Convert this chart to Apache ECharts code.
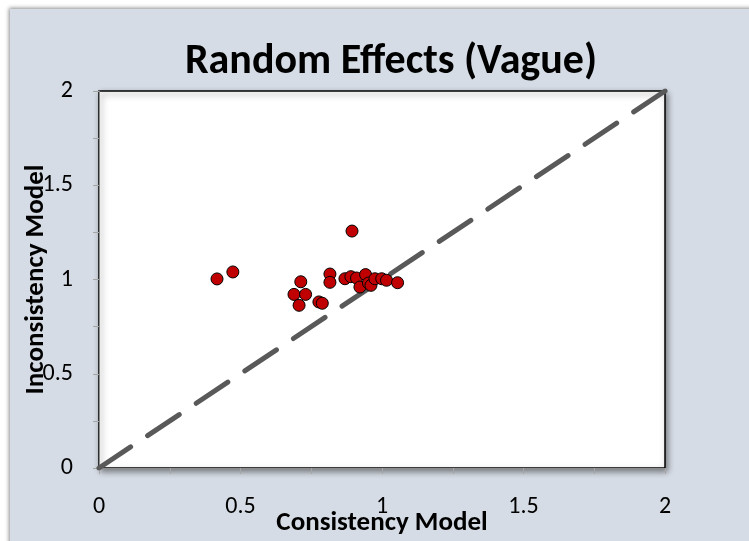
<!DOCTYPE html>
<html>
<head>
<meta charset="utf-8">
<script src="https://cdn.jsdelivr.net/npm/echarts@6/dist/echarts.min.js"></script>
<style>
html,body{margin:0;padding:0;background:#ffffff;}
#chart{width:749px;height:541px;}
</style>
</head>
<body>
<div id="chart"></div>
<script>
// Data
var consistency   = [0.417, 0.473, 0.894, 0.713, 0.689, 0.730, 0.707, 0.777, 0.789, 0.816, 0.816, 0.869, 0.890, 0.910, 0.942, 0.922, 0.952, 0.961, 0.975, 0.999, 1.016, 1.055];
var inconsistency = [1.003, 1.040, 1.257, 0.988, 0.921, 0.921, 0.863, 0.881, 0.874, 1.029, 0.985, 1.004, 1.015, 1.008, 1.026, 0.960, 0.981, 0.969, 1.004, 1.004, 0.996, 0.983];
var identityLine  = [[0, 0], [2, 2]];
var titleText = 'Random Effects (Vague)';
var xName = 'Consistency Model';
var yName = 'Inconsistency Model';

var FONT = 'Carlito, "Liberation Sans Narrow", "Liberation Sans", sans-serif';
var points = consistency.map(function (v, i) { return [v, inconsistency[i]]; });

var chart = echarts.init(document.getElementById('chart'), null, {renderer: 'canvas'});
chart.setOption({
  backgroundColor: '#ffffff',
  animation: false,
  graphic: [{
    type: 'rect', z: -10, silent: true,
    shape: {x: 10, y: 9, width: 760, height: 560},
    style: {fill: '#d6dce5', shadowBlur: 4, shadowColor: 'rgba(0,0,0,0.45)', shadowOffsetX: -1, shadowOffsetY: -1}
  }],
  title: {
    text: titleText,
    left: 386, top: 36, textAlign: 'center',
    textStyle: {fontFamily: FONT, fontSize: 42, fontWeight: 'bold', color: '#000'}
  },
  grid: {
    left: 99, top: 91, width: 566, height: 377,
    containLabel: false, outerBoundsMode: 'none',
    show: true, backgroundColor: '#ffffff', borderColor: '#000', borderWidth: 1.5,
    shadowColor: 'rgba(0,0,0,0.45)', shadowBlur: 6, shadowOffsetX: 2, shadowOffsetY: 3
  },
  xAxis: {
    type: 'value', min: 0, max: 2, interval: 0.5,
    name: xName, nameLocation: 'middle', nameGap: 42, nameMoveOverlap: false,
    nameTextStyle: {fontFamily: FONT, fontSize: 27, fontWeight: 'bold', color: '#000'},
    axisLine: {show: true, onZero: false, lineStyle: {color: '#8c8c8c', width: 1}},
    axisTick: {show: true, length: 6, lineStyle: {color: '#a6a6a6'}},
    minorTick: {show: true, splitNumber: 2, length: 6, lineStyle: {color: '#a6a6a6'}},
    splitLine: {show: false},
    axisLabel: {margin: 27, fontFamily: FONT, fontSize: 24, color: '#000',
      formatter: function (v) { return String(v); }}
  },
  yAxis: {
    type: 'value', min: 0, max: 2, interval: 0.5,
    name: yName, nameLocation: 'middle', nameGap: 49, nameRotate: 90, nameMoveOverlap: false,
    nameTextStyle: {fontFamily: FONT, fontSize: 27, fontWeight: 'bold', color: '#000'},
    axisLine: {show: true, onZero: false, lineStyle: {color: '#8c8c8c', width: 1}},
    axisTick: {show: true, length: 6, lineStyle: {color: '#a6a6a6'}},
    minorTick: {show: true, splitNumber: 2, length: 6, lineStyle: {color: '#a6a6a6'}},
    splitLine: {show: false},
    axisLabel: {margin: 26, fontFamily: FONT, fontSize: 24, color: '#000',
      formatter: function (v) { return String(v); }}
  },
  series: [{
    type: 'line', data: identityLine, symbol: 'none', silent: true, z: 1,
    lineStyle: {color: '#595959', width: 5, type: [38, 20.4], cap: 'round'}
  }, {
    type: 'scatter', data: points, symbol: 'circle', symbolSize: 12, z: 3,
    itemStyle: {color: '#c00000', borderColor: '#000', borderWidth: 1, opacity: 1}
  }]
});
</script>
</body>
</html>
